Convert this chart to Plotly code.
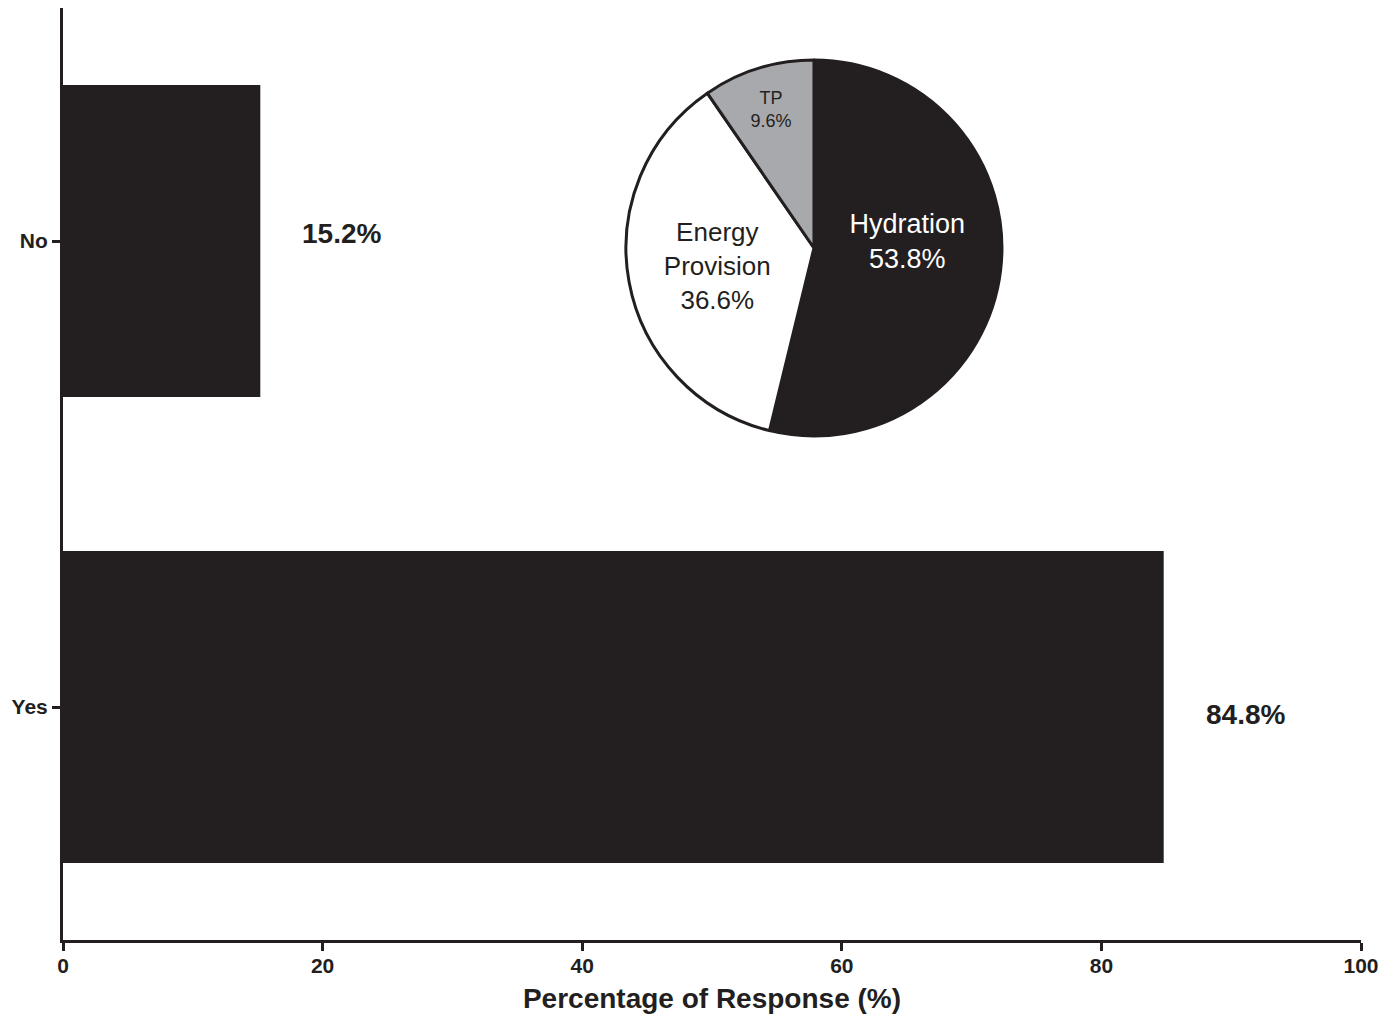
import plotly.graph_objects as go

# Bar data
categories = ["Yes", "No"]
percentages = [84.8, 15.2]
bar_labels = ["84.8%", "15.2%"]

# Pie (inset) data
pie_labels = ["Hydration", "Energy Provision", "TP"]
pie_values = [53.8, 36.6, 9.6]
pie_texts = ["Hydration<br>53.8%<br> ", "Energy<br>Provision<br>36.6%", "TP<br>9.6%"]

x_ticks = [0, 20, 40, 60, 80, 100]

INK = "#231f20"
FONT = "Liberation Sans, Arial, sans-serif"

fig = go.Figure()

fig.add_trace(go.Bar(
    x=percentages, y=categories, orientation="h",
    marker=dict(color=INK, line=dict(width=0)),
    width=0.67, showlegend=False, hoverinfo="skip",
))

fig.add_trace(go.Pie(
    labels=pie_labels, values=pie_values, text=pie_texts,
    textinfo="text", sort=False, direction="clockwise", rotation=0,
    marker=dict(colors=[INK, "#ffffff", "#a7a9ac"], line=dict(color=INK, width=3)),
    textposition="inside", insidetextorientation="horizontal",
    insidetextfont=dict(family=FONT, size=[27, 26, 18], color=["#ffffff", INK, INK]),
    domain=dict(x=[0.4337, 0.7234], y=[0.5408, 0.9442]),
    showlegend=False, hoverinfo="skip",
))

shifts = {"Yes": -7, "No": 8}
for cat, val, lab in zip(categories, percentages, bar_labels):
    fig.add_annotation(
        x=val, y=cat, text="<b>%s</b>" % lab, showarrow=False,
        xanchor="left", xshift=40, yshift=shifts[cat],
        font=dict(family=FONT, size=28, color=INK),
    )

fig.update_layout(
    width=1396, height=1014,
    margin=dict(l=63, r=35, t=8, b=74),
    paper_bgcolor="white", plot_bgcolor="white",
    font=dict(family=FONT, color=INK),
    xaxis=dict(
        range=[0, 100], tickvals=x_ticks, ticktext=["<b>%d</b>" % t for t in x_ticks],
        showgrid=False, zeroline=False, showline=True, linecolor=INK, linewidth=3,
        ticks="outside", ticklen=8, tickwidth=3, tickcolor=INK,
        tickfont=dict(family=FONT, size=21, color=INK), automargin=False,
        ticklabelstandoff=-3,
        title=dict(text="<b>Percentage of Response (%)</b>",
                   font=dict(family=FONT, size=28, color=INK), standoff=16),
    ),
    yaxis=dict(
        range=[-0.5, 1.5], showgrid=False, zeroline=False, showline=True,
        linecolor=INK, linewidth=3, ticks="outside", ticklen=8, tickwidth=3,
        tickcolor=INK, tickvals=categories, automargin=False,
        ticktext=["<b>%s</b>" % c for c in categories],
        tickfont=dict(family=FONT, size=21, color=INK),
    ),
)

fig.write_html("out.html", config={"displayModeBar": False},
               post_script="document.body.style.margin='0';document.body.style.overflow='hidden';")
